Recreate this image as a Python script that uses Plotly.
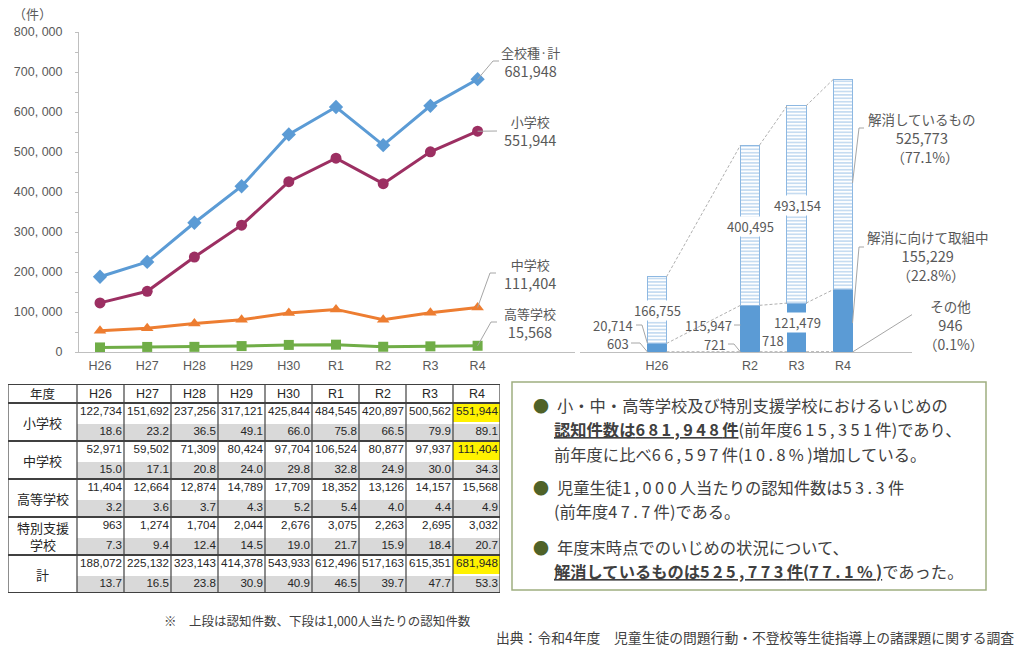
import re
import plotly.graph_objects as go

# ---- values ----
years = ["H26", "H27", "H28", "H29", "H30", "R1", "R2", "R3", "R4"]
total = [188072, 225132, 323143, 414378, 543933, 612496, 517163, 615351, 681948]
elementary = [122734, 151692, 237256, 317121, 425844, 484545, 420897, 500562, 551944]
junior = [52971, 59502, 71309, 80424, 97704, 106524, 80877, 97937, 111404]
high = [11404, 12664, 12874, 14789, 17709, 18352, 13126, 14157, 15568]
special = [963, 1274, 1704, 2044, 2676, 3075, 2263, 2695, 3032]

# per 1,000 pupils
rate_elem = [18.6, 23.2, 36.5, 49.1, 66.0, 75.8, 66.5, 79.9, 89.1]
rate_junior = [15.0, 17.1, 20.8, 24.0, 29.8, 32.8, 24.9, 30.0, 34.3]
rate_high = [3.2, 3.6, 3.7, 4.3, 5.2, 5.4, 4.0, 4.4, 4.9]
rate_special = [7.3, 9.4, 12.4, 14.5, 19.0, 21.7, 15.9, 18.4, 20.7]
rate_total = [13.7, 16.5, 23.8, 30.9, 40.9, 46.5, 39.7, 47.7, 53.3]

# status at year end (bar chart)
bar_years = ["H26", "R2", "R3", "R4"]
solved = [166755, 400495, 493154, 525773]
working = [20714, 115947, 121479, 155229]
other = [603, 721, 718, 946]
status_names = ["解消しているもの", "解消に向けて取組中", "その他"]

FONT = "Noto Sans CJK JP"
NUM_FONT = "Liberation Sans Narrow, Liberation Sans, Noto Sans CJK JP"
GRAY = "#595959"
TXT = "#404040"
LEAD = "#A6A6A6"
W, H = 1024, 649


def px(x):          # pixel column -> paper x
    return x / W


def py(y):          # pixel row -> paper y
    return 1 - y / H


def v(y):           # pixel row -> count (0 at row 352, 800,000 at row 32)
    return (352 - y) * 800000 / 320


def x1(x):          # pixel column -> line chart x (H26 = 0)
    return (x - 100) / 47.2


def x2(x):          # pixel column -> bar chart x (H26 = 0)
    return (x - 657) / 46.5


fig = go.Figure()

# ---- line chart ----
series = [
    ("全校種·計", total, "#5B9BD5", "diamond", 11, 62, (493, 61, 499)),
    ("小学校", elementary, "#9C2F62", "circle", 11, 131, (488, 131, 497)),
    ("中学校", junior, "#ED7D31", "triangle-up", 11, 274, (490, 273, 496)),
    ("高等学校", high, "#70AD47", "square", 10, 323, (491, 322, 497)),
]
idx = list(range(len(years)))
annos = []
for name, vals, col, sym, size, ly, (mx, my, ex) in series:
    fig.add_trace(go.Scatter(x=idx, y=vals, mode="lines+markers",
                             line=dict(color=col, width=3),
                             marker=dict(symbol=sym, size=size, color=col),
                             xaxis="x", yaxis="y", hoverinfo="skip"))
    fig.add_trace(go.Scatter(x=[idx[-1], x1(mx), x1(ex)], y=[vals[-1], v(my), v(my)],
                             mode="lines", line=dict(color=LEAD, width=1),
                             xaxis="x", yaxis="y", hoverinfo="skip"))
    annos.append(dict(x=px(530), y=py(ly),
                      text=f"<span style='font-size:13px'>{name}</span><br>{vals[-1]:,}",
                      font=dict(size=14.5)))

annos.append(dict(x=px(32), y=py(13), text="（件）", font=dict(size=13)))

# ---- stacked status bars ----
slots = [0, 2, 3, 4]      # H26, gap, R2, R3, R4
bw = 0.41
fig.add_trace(go.Bar(x=slots, y=other, width=bw, marker=dict(color="#5B9BD5", line=dict(width=0)),
                     xaxis="x2", yaxis="y2", hoverinfo="skip"))
fig.add_trace(go.Bar(x=slots, y=working, width=bw, marker=dict(color="#5B9BD5", line=dict(width=0)),
                     xaxis="x2", yaxis="y2", hoverinfo="skip"))
fig.add_trace(go.Bar(x=slots, y=solved, width=bw,
                     marker=dict(color="white",
                                 pattern=dict(shape="-", fgcolor="#5B9BD5", bgcolor="white",
                                              size=3.4, solidity=0.35),
                                 line=dict(color="#8DB8E2", width=1)),
                     xaxis="x2", yaxis="y2", hoverinfo="skip"))

# dashed connectors between bars
lvl_other = other
lvl_work = [o + w for o, w in zip(other, working)]
lvl_top = [o + w + s for o, w, s in zip(other, working, solved)]
for lv in (lvl_other, lvl_work, lvl_top):
    for i in range(len(slots) - 1):
        fig.add_trace(go.Scatter(x=[slots[i] + bw / 2, slots[i + 1] - bw / 2], y=[lv[i], lv[i + 1]],
                                 mode="lines", line=dict(color="#B0B0B0", width=1, dash="3px,2px"),
                                 xaxis="x2", yaxis="y2", hoverinfo="skip"))

bar_font = dict(size=13, color=GRAY)
# labels inside / beside the bars
annos += [
    dict(x=px(657), y=py(311), text=f"{solved[0]:,}", bgcolor="white", font=bar_font),
    dict(x=px(750), y=py(226), text=f"{solved[1]:,}", bgcolor="white", font=bar_font),
    dict(x=px(797), y=py(205), text=f"{solved[2]:,}", bgcolor="white", font=bar_font),
    dict(x=px(797), y=py(322), text=f"{working[2]:,}", bgcolor="white", font=bar_font),
    dict(x=px(634), y=py(325), text=f"{working[0]:,}", xanchor="right", font=bar_font),
    dict(x=px(630), y=py(343), text=f"{other[0]:,}", xanchor="right", font=bar_font),
    dict(x=px(733), y=py(325), text=f"{working[1]:,}", xanchor="right", font=bar_font),
    dict(x=px(727), y=py(344), text=f"{other[1]:,}", xanchor="right", font=bar_font),
    dict(x=px(785), y=py(340), text=f"{other[2]:,}", xanchor="right", font=bar_font),
]
left_edge = [s - bw / 2 for s in slots]
leaders = [
    ([x2(636), x2(642), left_edge[0]], [v(325), v(325), lvl_work[0]]),
    ([x2(631), x2(640), left_edge[0]], [v(343), v(343), 0]),
    ([x2(734), left_edge[1]], [v(325), v(325)]),
    ([x2(728), x2(734), left_edge[1]], [v(344), v(344), 0]),
]

# R4 breakdown on the right
r4 = slots[-1] + bw / 2
tot4 = lvl_top[-1]
status_vals = [solved[-1], working[-1], other[-1]]
status_pos = [  # label centre x/y, leader (y on bar, mid x, mid y, end x)
    (922, 138, (183, 859, 128, 864)),
    (928, 256, (323, 859, 247, 864)),
    (950, 325, (352, 913, 314, 926)),
]
for name, val, (cx, cy, (by, mx, my, ex)) in zip(status_names, status_vals, status_pos):
    share = f"&nbsp;&nbsp;<span style='font-size:14px'>（{val / tot4 * 100:.1f}%）</span>"
    annos.append(dict(x=px(cx), y=py(cy),
                      text=f"<span style='font-size:13.5px'>{name}</span><br>{val:,}<br>{share}",
                      font=dict(size=14.5)))
    leaders.append(([r4, x2(mx), x2(ex)], [v(by), v(my), v(my)]))

for lx, ly in leaders:
    fig.add_trace(go.Scatter(x=lx, y=ly, mode="lines", line=dict(color=LEAD, width=1),
                             xaxis="x2", yaxis="y2", hoverinfo="skip", cliponaxis=False))

# ---- table ----
col_w = [69] + [47] * 9
edges = [0]
for cw in col_w:
    edges.append(edges[-1] + cw)
head_h, sub_h = 19, 19
table_rows = [
    ("小学校", elementary, rate_elem, True),
    ("中学校", junior, rate_junior, True),
    ("高等学校", high, rate_high, False),
    ("特別支援<br>学校", special, rate_special, False),
    ("計", total, rate_total, True),
]
shapes = []
tx, ty, tt = [], [], []
for g, (label, counts, rates, mark) in enumerate(table_rows):
    top = head_h + g * 2 * sub_h
    annos.append(dict(x=edges[1] / 2, y=top + sub_h, xref="x3", yref="y3", text=label,
                      font=dict(size=13, color="#262626")))
    for j in range(len(years)):
        xl, xr = edges[j + 1], edges[j + 2]
        shapes.append(dict(type="rect", xref="x3", yref="y3", x0=xl, x1=xr,
                           y0=top + sub_h + 2, y1=top + 2 * sub_h, layer="below",
                           fillcolor="#D9D9D9", line=dict(width=0)))
        if mark and j == len(years) - 1:
            shapes.append(dict(type="rect", xref="x3", yref="y3", x0=xl, x1=xr + 3,
                               y0=top + 1, y1=top + sub_h, layer="below",
                               fillcolor="#FFF200", line=dict(width=0)))
        tx += [xr - 2, xr - 2]
        ty += [top + sub_h / 2, top + 1.5 * sub_h + 1]
        tt += [f"{counts[j]:,}", f"{rates[j]:.1f}"]

fig.add_trace(go.Scatter(x=tx, y=ty, text=tt, mode="text", textposition="middle left",
                         textfont=dict(family=NUM_FONT, size=11.6, color="#262626"),
                         xaxis="x3", yaxis="y3", hoverinfo="skip", cliponaxis=False))

annos.append(dict(x=edges[1] / 2, y=head_h / 2, xref="x3", yref="y3", text="年度",
                  font=dict(size=12.5, color="#262626")))
for j, yr in enumerate(years):
    annos.append(dict(x=(edges[j + 1] + edges[j + 2]) / 2, y=head_h / 2, xref="x3", yref="y3",
                      text=yr, font=dict(family=NUM_FONT, size=12.5, color="#262626")))

bottom = head_h + len(table_rows) * 2 * sub_h
for e in edges:
    shapes.append(dict(type="line", xref="x3", yref="y3", x0=e, x1=e, y0=0, y1=bottom,
                       line=dict(color="#404040", width=1.2)))
for hy in [0, head_h] + [head_h + (g + 1) * 2 * sub_h for g in range(len(table_rows))]:
    shapes.append(dict(type="line", xref="x3", yref="y3", x0=0, x1=edges[-1], y0=hy, y1=hy,
                       line=dict(color="#404040", width=2)))

# ---- text box ----
shapes.append(dict(type="rect", xref="paper", yref="paper", x0=px(512), x1=px(986),
                   y0=py(590), y1=py(382), line=dict(color="#9FAE80", width=1.5)))
bullet_rows = [405, 487, 547]
for by in bullet_rows:
    annos.append(dict(x=px(541), y=py(by), text="●", font=dict(size=16, color="#4F6228")))
box_lines = [
    (556, 405, "小・中・高等学校及び特別支援学校におけるいじめの"),
    (553, 429, "<u><b>認知件数は681,948件</b></u>(前年度615,351件)であり、"),
    (553, 454, "前年度に比べ66,597件(10.8%)増加している。"),
    (556, 487, "児童生徒1,000人当たりの認知件数は53.3件"),
    (553, 511, "(前年度47.7件)である。"),
    (556, 547, "年度末時点でのいじめの状況について、"),
    (553, 571, "<u><b>解消しているものは525,773件(77.1%)</b></u>であった。"),
]
for lx, ly, text in box_lines:
    # the source font has wide figures: spread the digit runs a little
    text = re.sub(r"([0-9][0-9,.%]*)", r"<span style='letter-spacing:3.4px'>\1</span>", text)
    annos.append(dict(x=px(lx), y=py(ly), text=text, xanchor="left",
                      font=dict(size=16.3, color=TXT)))

annos.append(dict(x=px(163), y=py(620), text="※　上段は認知件数、下段は1,000人当たりの認知件数",
                  xanchor="left", font=dict(size=12.5, color=TXT)))
annos.append(dict(x=px(1015), y=py(637),
                  text="出典：令和4年度　児童生徒の問題行動・不登校等生徒指導上の諸課題に関する調査",
                  xanchor="right", font=dict(size=13.8, color=TXT)))

for a in annos:
    a.setdefault("xref", "paper")
    a.setdefault("yref", "paper")
    a.setdefault("xanchor", "center")
    a.setdefault("yanchor", "middle")
    a.setdefault("showarrow", False)
    a["borderpad"] = 0
    f = a.setdefault("font", {})
    f.setdefault("family", FONT)
    f.setdefault("color", GRAY)

y_ticks = list(range(0, 800001, 100000))
y_text = [f"{t:,}".replace(",", ", ") for t in y_ticks]
tick_font = dict(family=NUM_FONT, size=12.5, color=GRAY)

fig.update_layout(
    width=W, height=H, margin=dict(l=0, r=0, t=0, b=0, autoexpand=False),
    paper_bgcolor="white", plot_bgcolor="white",
    showlegend=False, barmode="stack",
    font=dict(family=FONT, color=GRAY),
    annotations=annos, shapes=shapes,
    xaxis=dict(domain=[px(79), px(575)], range=[x1(79), x1(575)], tickvals=idx, ticktext=years,
               showline=True, linecolor="#BFBFBF", showgrid=False, zeroline=False, ticks="",
               tickfont=tick_font, anchor="y", fixedrange=True, automargin=False,
               ticklabelstandoff=2),
    yaxis=dict(domain=[py(352), py(32)], range=[0, 800000], tickvals=y_ticks, ticktext=y_text,
               showline=True, linecolor="#BFBFBF", showgrid=False, zeroline=False,
               ticks="outside", ticklen=3, tickcolor="#BFBFBF",
               minor=dict(ticks="outside", ticklen=3, dtick=50000, tickcolor="#BFBFBF"),
               tickfont=tick_font, anchor="x", fixedrange=True, automargin=False,
               ticklabelstandoff=10),
    xaxis2=dict(domain=[px(580), px(912)], range=[x2(580), x2(912)], tickvals=slots,
                ticktext=bar_years, showline=True, linecolor="#BFBFBF", showgrid=False,
                zeroline=False, ticks="", tickfont=tick_font, anchor="y2", fixedrange=True,
                automargin=False, ticklabelstandoff=2),
    yaxis2=dict(domain=[py(352), py(32)], range=[0, 800000], visible=False, anchor="x2",
                fixedrange=True, automargin=False),
    xaxis3=dict(domain=[px(8), px(500)], range=[0, edges[-1]], visible=False, anchor="y3",
                automargin=False),
    yaxis3=dict(domain=[py(593), py(384)], range=[bottom, 0], visible=False, anchor="x3",
                automargin=False),
)

fig.write_html("out.html", config={"displayModeBar": False},
               post_script="document.body.style.margin='0px';")
